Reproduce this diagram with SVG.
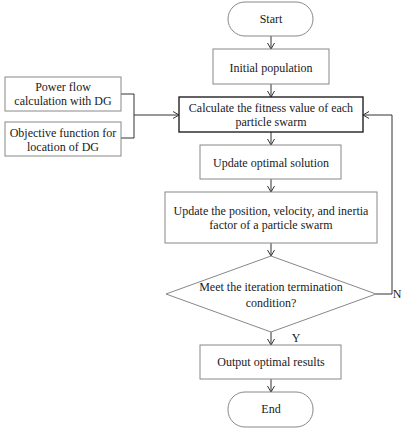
<svg xmlns="http://www.w3.org/2000/svg" width="407" height="439" viewBox="0 0 407 439">
<defs>
<style>
.b{fill:#fff;stroke:#888;stroke-width:1}
.bk{fill:#fff;stroke:#222;stroke-width:1.4}
.t{font-family:"Liberation Serif","Times New Roman",serif;font-size:12px;fill:#1a1a1a;text-anchor:middle}
.c{fill:none;stroke:#333;stroke-width:1}
</style>
<marker id="ar" markerWidth="10" markerHeight="10" refX="8" refY="5" orient="auto" markerUnits="userSpaceOnUse">
<polyline points="2,1.5 8,5 2,8.5" fill="none" stroke="#333" stroke-width="1"/>
</marker>
</defs>
<rect width="407" height="439" fill="#fff"/>
<g id="connectors">
<line class="c" x1="271" y1="36" x2="271" y2="49" marker-end="url(#ar)"/>
<line class="c" x1="271" y1="84" x2="271" y2="97" marker-end="url(#ar)"/>
<line class="c" x1="271" y1="132" x2="271" y2="145" marker-end="url(#ar)"/>
<line class="c" x1="271" y1="179" x2="271" y2="192" marker-end="url(#ar)"/>
<line class="c" x1="271" y1="243" x2="271" y2="256" marker-end="url(#ar)"/>
<line class="c" x1="271" y1="332" x2="271" y2="345" marker-end="url(#ar)"/>
<line class="c" x1="271" y1="379" x2="271" y2="392" marker-end="url(#ar)"/>
<polyline class="c" points="121,94 134,94 134,138 121,138"/>
<line class="c" x1="134" y1="115" x2="179" y2="115" marker-end="url(#ar)"/>
<polyline class="c" points="376,294 392,294 392,115 363,115" marker-end="url(#ar)"/>
<text class="t" x="296" y="342">Y</text>
<text class="t" x="397" y="298" text-anchor="start">N</text>
</g>
<g id="start"><rect class="b" x="228" y="2" width="85" height="34" rx="17"/><text class="t" x="271" y="23">Start</text></g>
<g id="init"><rect class="b" x="213" y="49" width="116" height="35"/><text class="t" x="271" y="72">Initial population</text></g>
<g id="power"><rect class="b" x="5" y="77" width="116" height="34"/><text class="t" x="63" y="91">Power flow</text><text class="t" x="63" y="105">calculation with DG</text></g>
<g id="objective"><rect class="b" x="5" y="122" width="116" height="34"/><text class="t" x="63" y="137">Objective function for</text><text class="t" x="63" y="151">location of DG</text></g>
<g id="fitness"><rect class="bk" x="179" y="97" width="184" height="35"/><text class="t" x="271" y="112">Calculate the fitness value of each</text><text class="t" x="271" y="126">particle swarm</text></g>
<g id="update"><rect class="b" x="200" y="145" width="141" height="34"/><text class="t" x="271" y="167">Update optimal solution</text></g>
<g id="position"><rect class="b" x="165" y="192" width="212" height="51"/><text class="t" x="271" y="215">Update the position, velocity, and inertia</text><text class="t" x="271" y="229">factor of a particle swarm</text></g>
<g id="decision"><polygon class="b" points="271,256 376,294 271,332 166,294"/><text class="t" x="271" y="291">Meet the iteration termination</text><text class="t" x="271" y="307">condition?</text></g>
<g id="output"><rect class="b" x="200" y="345" width="141" height="34"/><text class="t" x="271" y="366">Output optimal results</text></g>
<g id="end"><rect class="b" x="228" y="392" width="85" height="35" rx="17"/><text class="t" x="271" y="413">End</text></g>
</svg>
